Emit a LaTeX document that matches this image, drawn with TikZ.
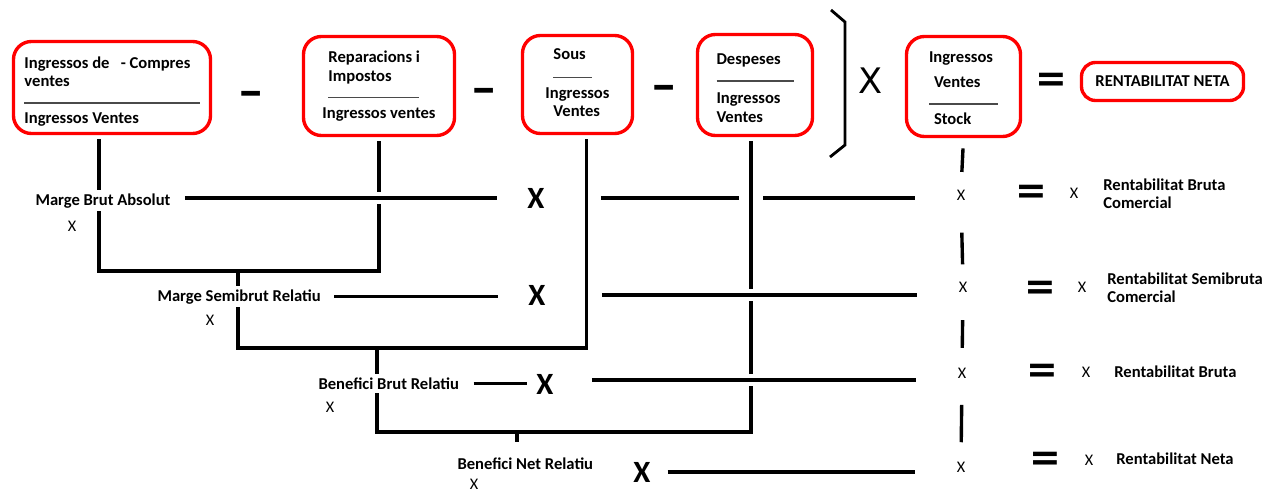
\documentclass[tikz,border=0pt]{standalone}
\usepackage{fontspec}
\usepackage{graphicx}
\setmainfont{Carlito}
\newfontfamily\signes{DejaVu Sans}
\usetikzlibrary{calc,backgrounds}
\definecolor{VermellCaixa}{HTML}{FF0000}
\definecolor{GrisRatlla}{HTML}{4A4A4A}
\newcommand{\fraccio}[1]{{\color{GrisRatlla}\rule[1pt]{#1}{1.2pt}}}

\begin{document}
\begin{tikzpicture}[
    x=0.025cm, y=-0.025cm,
    font=\fontsize{11.8}{13.2}\selectfont\bfseries,
    caixa/.style={draw=VermellCaixa,line width=2.4pt,rounded corners=0.45cm,align=left,inner sep=0pt},
    etiq/.style={fill=white,inner xsep=3pt,inner ysep=2.5pt},
    dreta/.style={inner sep=0pt,align=left,font=\fontsize{11.8}{12.8}\selectfont\bfseries},
    creu/.style={inner sep=0pt,font=\fontsize{22}{22}\selectfont\bfseries},
    xpetita/.style={inner sep=0pt,font=\fontsize{11.5}{13}\selectfont\mdseries},
    igual/.style={inner sep=0pt,font=\signes\bfseries\fontsize{27}{27}\selectfont},
    menys/.style={inner sep=0pt,font=\signes\bfseries\fontsize{24}{24}\selectfont},
    per/.style={inner sep=0pt,font=\signes\fontsize{25}{25}\selectfont},
    enllac/.style={line width=2.4pt},
    pont/.style={preaction={draw=white,line width=8.5pt}}
  ]
  \useasboundingbox (0,0) rectangle (1279,492);

  % fila de dalt
  \node[caixa,minimum width=4.925cm,minimum height=2.3cm] (brut) at (112,87.5)
    {\rule{0pt}{0.5cm}Ingressos de\ \ \ - Compres\\ventes\\\fraccio{4.375cm}\\Ingressos Ventes};
  \node[menys] (m1) at (251,97) {\scalebox{1.8}[1]{-}};
  \node[caixa,minimum width=3.775cm,minimum height=2.475cm] (repar) at (379,86)
    {\hspace*{0.15cm}Reparacions i\\\hspace*{0.15cm}Impostos\\\hspace*{0.15cm}\fraccio{2.275cm}\\Ingressos ventes};
  \node[menys] (m2) at (484,94) {\scalebox{1.8}[1]{-}};
  \node[caixa,minimum width=2.75cm,minimum height=2.45cm] (sous) at (577.5,84.5)
    {\hspace*{0.2cm}Sous\\[1.5pt]\hspace*{0.2cm}\fraccio{0.95cm}\\Ingressos\\\hspace*{0.2cm}Ventes\rule[-0.1cm]{0pt}{0.1cm}};
  \node[menys] (m3) at (664,91) {\scalebox{1.8}[1]{-}};
  \node[caixa,minimum width=2.875cm,minimum height=2.525cm] (desp) at (755,85)
    {\rule{0pt}{0.43cm}Despeses\\\fraccio{1.925cm}\\[1.5pt]Ingressos\\Ventes};
  \draw[line width=2pt] (831,10) -- (845,22) -- (845,145) -- (830,157);
  \node[per] (pr) at (871,81) {X};
  \node[caixa,minimum width=2.85cm,minimum height=2.5cm] (rot) at (963.5,86.5)
    {\rule{0pt}{0.36cm}Ingressos\\[4.6pt]\hspace*{0.125cm}Ventes\\[0pt]\fraccio{1.725cm}\\[0.3pt]\hspace*{0.125cm}Stock};
  \node[igual] (ig) at (1051,82) {=};
  \node[caixa,rounded corners=0.35cm,minimum width=4.05cm,minimum height=0.95cm] (rneta) at (1162.5,81.5)
    {RENTABILITAT NETA};

  % marges i beneficis
  \node[etiq,anchor=base west] (mba) at (31,205) {Marge Brut Absolut};
  \node[xpetita,anchor=base] (xa) at (72,231) {X};
  \node[etiq,anchor=base west] (msr) at (153,301) {Marge Semibrut Relatiu};
  \node[xpetita,anchor=base] (xb) at (210,325) {X};
  \node[etiq,anchor=base west] (bbr) at (314,389) {Benefici Brut Relatiu};
  \node[xpetita,anchor=base] (xc) at (330,412) {X};
  \node[etiq,anchor=base west] (bnr) at (453,469) {Benefici Net Relatiu};
  \node[xpetita,anchor=base] (xd) at (474,489) {X};

  \node[creu,anchor=base] (pa) at (536,208) {X};
  \node[creu,anchor=base] (pb) at (537,305) {X};
  \node[creu,anchor=base] (pc) at (545,394) {X};
  \node[creu,anchor=base] (pd) at (642,482) {X};

  % columna de rentabilitats
  \node[xpetita,anchor=base] (ra) at (961,200) {X};
  \node[xpetita,anchor=base] (rb) at (963,292) {X};
  \node[xpetita,anchor=base] (rc) at (962,378) {X};
  \node[xpetita,anchor=base] (rd) at (961,472) {X};
  \node[igual] (ea) at (1031,194) {=};
  \node[igual] (eb) at (1040,290) {=};
  \node[igual] (ec) at (1042,373) {=};
  \node[igual] (ed) at (1045,461) {=};
  \node[xpetita,anchor=base] (sa) at (1074,198) {X};
  \node[xpetita,anchor=base] (sb) at (1082,292) {X};
  \node[xpetita,anchor=base] (sc) at (1086,377) {X};
  \node[xpetita,anchor=base] (sd) at (1089,465) {X};
  \node[dreta,anchor=west] (la) at (1103,194) {Rentabilitat Bruta\\Comercial};
  \node[dreta,anchor=west] (lb) at (1107,288) {Rentabilitat Semibruta\\Comercial};
  \node[dreta,anchor=base west] (lc) at (1114,377) {Rentabilitat Bruta};
  \node[dreta,anchor=base west] (ld) at (1116,464) {Rentabilitat Neta};

  \coordinate (vb) at ([xshift=-0.325cm]brut.south);
  \coordinate (vs) at ([xshift=0.225cm]sous.south);
  \coordinate (vd) at ([xshift=-0.1cm]desp.south);
  \coordinate (ta) at (238,271);
  \coordinate (tb) at (377,348);
  \coordinate (tc) at (517,432);

  \begin{scope}[on background layer]
    \draw[enllac,shorten <=3pt,shorten >=3pt] (vb) -- (vb |- ta) -| (repar.south);
    \draw[enllac,shorten >=3pt] (ta) -- (ta |- tb) -| (vs);
    \draw[enllac,shorten >=3pt] (tb) -- (tb |- tc) -| (vd);
    \draw[enllac,shorten >=0.28cm] (tc) -- (tc |- bnr.north);

    \draw[enllac,pont,shorten <=0.25cm,shorten >=0.75cm] (pa.west -| mba.east) -- (pa.west);
    \draw[enllac,shorten <=1.4cm] (pa.east) -- ($(pa.east -| vd)+(-12,0)$);
    \draw[enllac,shorten >=1.05cm] ($(pa.east -| vd)+(12,0)$) -- (pa.east -| ra.west);
    \draw[enllac,shorten <=0.22cm,shorten >=0.75cm] (msr.east) -- (msr.east -| pb.west);
    \draw[enllac,pont,shorten <=1.4cm,shorten >=1.05cm] (pb.east) -- (pb.east -| rb.west);
    \draw[enllac,shorten <=0.25cm,shorten >=0.22cm] (bbr.east) -- (bbr.east -| pc.west);
    \draw[enllac,pont,shorten <=0.95cm,shorten >=1.05cm] ([yshift=0.1cm]pc.east) -- ([yshift=0.1cm]pc.east -| rc.west);
    \draw[enllac,shorten <=0.42cm,shorten >=1.05cm] (pd.east) -- (pd.east -| rd.west);

    \draw[enllac] ($(rot.south)!0.2!(ra.north)$) -- ($(rot.south)!0.66!(ra.north)$);
    \draw[enllac] ($(ra.south)!0.4!(rb.north)$) -- ($(ra.south)!0.79!(rb.north)$);
    \draw[enllac] ($(rb.south)!0.37!(rc.north)$) -- ($(rb.south)!0.74!(rc.north)$);
    \draw[enllac] ($(rc.south)!0.32!(rd.north)$) -- ($(rc.south)!0.77!(rd.north)$);
  \end{scope}
\end{tikzpicture}
\end{document}
